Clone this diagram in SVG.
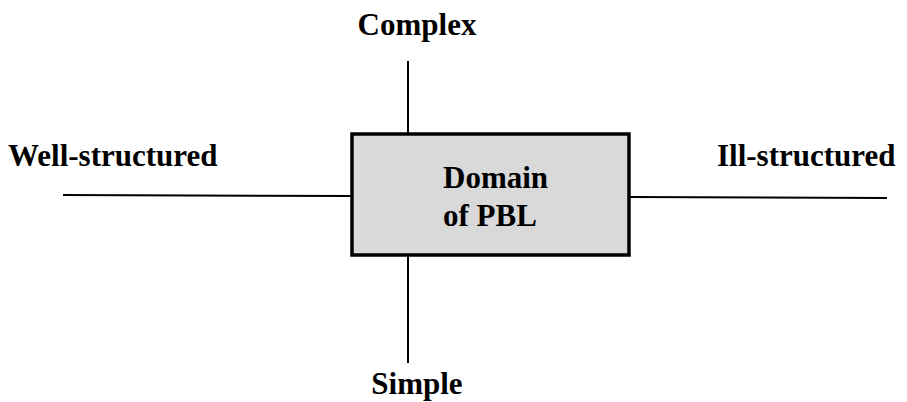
<svg xmlns="http://www.w3.org/2000/svg" width="907" height="402" viewBox="0 0 907 402">
  <style>
    .lbl { font-family: "Liberation Serif", "Times New Roman", serif; font-weight: bold; font-size: 31px; fill: #000; }
    .axis { stroke: #000; stroke-width: 2; fill: none; }
    .box { fill: #d9d9d9; stroke: #000; stroke-width: 3.5; }
  </style>
  <rect width="907" height="402" fill="#fff"/>
  <g id="connectors">
    <line class="axis" x1="408" y1="61" x2="408" y2="134"/>
    <line class="axis" x1="408" y1="255" x2="408" y2="363"/>
    <line class="axis" x1="63" y1="195" x2="352" y2="196"/>
    <line class="axis" x1="629" y1="197" x2="887" y2="198"/>
  </g>
  <g id="domain">
    <rect class="box" x="352" y="134" width="277" height="121"/>
    <text class="lbl" x="443" y="188">Domain</text>
    <text class="lbl" x="443" y="226">of PBL</text>
  </g>
  <g id="complex">
    <text class="lbl" x="417" y="35" text-anchor="middle">Complex</text>
  </g>
  <g id="simple">
    <text class="lbl" x="417" y="394" text-anchor="middle">Simple</text>
  </g>
  <g id="well-structured">
    <text class="lbl" x="8" y="166">Well-structured</text>
  </g>
  <g id="ill-structured">
    <text class="lbl" x="717" y="166">Ill-structured</text>
  </g>
</svg>
